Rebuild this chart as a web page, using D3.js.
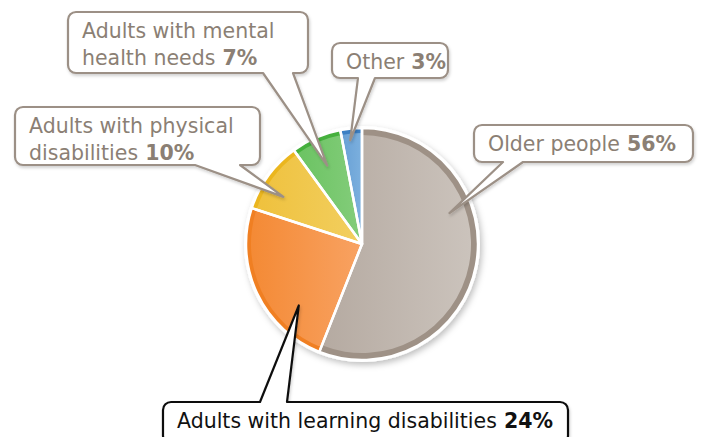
<!DOCTYPE html>
<html>
<head>
<meta charset="utf-8">
<script src="https://cdn.jsdelivr.net/npm/d3@7"></script>
<style>
  body { margin: 0; background: #fff; }
  svg { display: block; }
  text { font-family: "DejaVu Sans", sans-serif; }
</style>
</head>
<body>
<svg class="chart"></svg>
<script>
const width = 707,
  height = 437;

// data
const categories = [
  'Older people',
  'Adults with learning disabilities',
  'Adults with physical disabilities',
  'Adults with mental health needs',
  'Other'
];
const values = [56, 24, 10, 7, 3];
const labelLines = [
  ['Older people'],
  ['Adults with learning disabilities'],
  ['Adults with physical', 'disabilities'],
  ['Adults with mental', 'health needs'],
  ['Other']
];

// look of each slice: rim, dark side, light side
const rims = ['#9e9186', '#f07f22', '#ebb61e', '#45b03d', '#3c80c4'];
const darks = ['#b5aaa1', '#f48a35', '#efc13d', '#6bc362', '#68a0d5'];
const lights = ['#cbc3bc', '#f8a262', '#f2cf60', '#84cd7b', '#7cb0de'];

// callout boxes: box, pointer base on one edge, where the tip sits in the slice
const callouts = [
  {x: 474, y: 125, w: 219, h: 37, edge: 'bottom', a: 503, b: 523, at: 0.35, r: 0.8, ink: '#8b7f74', line: '#9c9086'},
  {x: 163, y: 402, w: 405, h: 42, edge: 'top', a: 260, b: 287, at: 0.28, r: 0.76, ink: '#111', line: '#111'},
  {x: 15, y: 107, w: 245, h: 58, edge: 'bottom', a: 195, b: 240, at: 0.36, r: 0.79, ink: '#8b7f74', line: '#9c9086'},
  {x: 68, y: 12, w: 240, h: 61, edge: 'bottom', a: 263, b: 293, at: 0.48, r: 0.74, ink: '#8b7f74', line: '#9c9086'},
  {x: 332, y: 43, w: 116, h: 35, edge: 'bottom', a: 358, b: 375, at: 0.4, r: 0.9, ink: '#8b7f74', line: '#9c9086'}
];

const cx = 362, cy = 244, radius = 116;

let chart = d3.select(".chart")
  .attr("width", width)
  .attr("height", height);

let defs = chart.append("defs");
let shadow = defs.append("filter")
  .attr("id", "shadow")
  .attr("x", "-20%").attr("y", "-20%")
  .attr("width", "140%").attr("height", "140%");
shadow.append("feDropShadow")
  .attr("dx", 2).attr("dy", 3)
  .attr("stdDeviation", 3)
  .attr("flood-color", "#000")
  .attr("flood-opacity", 0.25);

let boxShadow = defs.append("filter")
  .attr("id", "boxshadow")
  .attr("x", "-10%").attr("y", "-20%")
  .attr("width", "120%").attr("height", "150%");
boxShadow.append("feDropShadow")
  .attr("dx", 1).attr("dy", 2)
  .attr("stdDeviation", 1.5)
  .attr("flood-color", "#000")
  .attr("flood-opacity", 0.18);

values.forEach((v, i) => {
  let g = defs.append("linearGradient")
    .attr("id", "grad" + i)
    .attr("x1", 0).attr("x2", 1)
    .attr("y1", 0).attr("y2", 0);
  g.append("stop").attr("offset", "0%").attr("stop-color", darks[i]);
  g.append("stop").attr("offset", "100%").attr("stop-color", lights[i]);
});

let pie = d3.pie()
  .sort(null)
  .value(d => d);
let arcs = pie(values);

let outer = d3.arc().innerRadius(0).outerRadius(radius);
let inner = d3.arc().innerRadius(0).outerRadius((d, i) => radius - (i === 0 ? 7 : 5));

let pieG = chart.append("g")
  .attr("transform", `translate(${cx}, ${cy})`);

pieG.append("circle")
  .attr("r", radius + 2)
  .attr("fill", "#fff")
  .attr("filter", "url(#shadow)");

pieG.selectAll(".rim")
  .data(arcs)
  .enter().append("path")
  .attr("class", "rim")
  .attr("d", outer)
  .attr("fill", (d, i) => rims[i]);

pieG.selectAll(".fill")
  .data(arcs)
  .enter().append("path")
  .attr("class", "fill")
  .attr("d", (d, i) => inner(d, i))
  .attr("fill", (d, i) => `url(#grad${i})`);

pieG.selectAll(".sep")
  .data(arcs)
  .enter().append("path")
  .attr("class", "sep")
  .attr("d", outer)
  .attr("fill", "none")
  .attr("stroke", "#fff")
  .attr("stroke-width", 2.5)
  .attr("stroke-linejoin", "round");

// speech bubble: rounded box with a pointer coming out of one edge
function bubble(c, tip) {
  let r = 8, x0 = c.x, y0 = c.y, x1 = c.x + c.w, y1 = c.y + c.h;
  let p = d3.path();
  p.moveTo(x0 + r, y0);
  if (c.edge === 'top') {
    p.lineTo(c.a, y0);
    p.lineTo(tip[0], tip[1]);
    p.lineTo(c.b, y0);
  }
  p.lineTo(x1 - r, y0);
  p.arcTo(x1, y0, x1, y0 + r, r);
  p.lineTo(x1, y1 - r);
  p.arcTo(x1, y1, x1 - r, y1, r);
  if (c.edge === 'bottom') {
    p.lineTo(c.b, y1);
    p.lineTo(tip[0], tip[1]);
    p.lineTo(c.a, y1);
  }
  p.lineTo(x0 + r, y1);
  p.arcTo(x0, y1, x0, y1 - r, r);
  p.lineTo(x0, y0 + r);
  p.arcTo(x0, y0, x0 + r, y0, r);
  p.closePath();
  return p.toString();
}

let labels = chart.append("g");

arcs.forEach((d, i) => {
  let c = callouts[i];
  let ang = d.startAngle + (d.endAngle - d.startAngle) * c.at;
  let tr = radius * c.r;
  let tip = [cx + tr * Math.sin(ang), cy - tr * Math.cos(ang)];

  labels.append("path")
    .attr("d", bubble(c, tip))
    .attr("fill", "#fff")
    .attr("stroke", c.line)
    .attr("stroke-width", 2.2)
    .attr("stroke-linejoin", "round")
    .attr("filter", "url(#boxshadow)");

  let lines = labelLines[i];
  lines.forEach((ln, j) => {
    let t = labels.append("text")
      .attr("x", c.x + 14)
      .attr("y", c.y + 26 + j * 27)
      .attr("fill", c.ink)
      .attr("font-size", 20.5);
    t.append("tspan").text(ln);
    if (j === lines.length - 1) {
      t.append("tspan")
        .attr("font-weight", "bold")
        .text(" " + values[i] + "%");
    }
  });
});
</script>
</body>
</html>
